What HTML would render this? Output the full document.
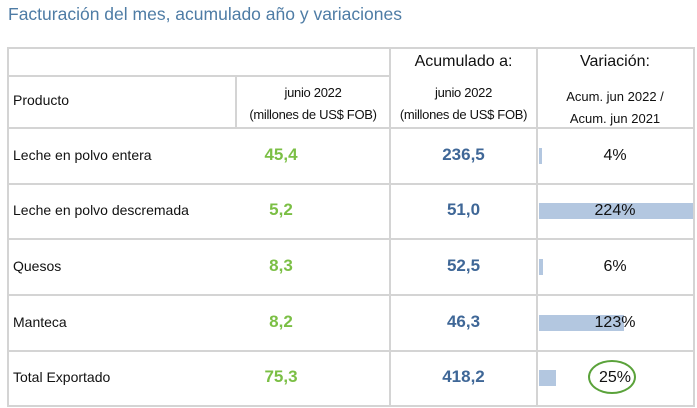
<!DOCTYPE html>
<html><head><meta charset="utf-8"><style>
body{margin:0;width:697px;height:408px;background:#fff;font-family:"Liberation Sans",sans-serif;position:relative;overflow:hidden}
.a{position:absolute}
.h{background:#d4d4d4}
.t{position:absolute;text-align:center;color:#111}
.g{color:#7bbf45;font-weight:bold;font-size:17px}
.b{color:#3f6797;font-weight:bold;font-size:17px}
</style></head><body>
<div class="a" style="left:8px;top:4px;font-size:17.5px;color:#4e7ca5">Facturación del mes, acumulado año y variaciones</div>
<div id="tbl"></div>
<script>
const products=["Leche en polvo entera","Leche en polvo descremada","Quesos","Manteca","Total Exportado"];
const monthVals=["45,4","5,2","8,3","8,2","75,3"];
const accVals=["236,5","51,0","52,5","46,3","418,2"];
const variation=[4,224,6,123,25];
const tbl=document.getElementById('tbl');
function line(x,y,w,h,name){const d=document.createElement('div');d.className='a h';d.style.cssText+=`left:${x}px;top:${y}px;width:${w}px;height:${h}px`;


tbl.appendChild(d);}
function txt(html,x,y,w,cls,name,extra){const d=document.createElement('div');d.className='t '+(cls||'');d.style.cssText+=`left:${x}px;top:${y}px;width:${w}px;${extra||''}`;d.innerHTML=html;


tbl.appendChild(d);return d;}
const rowTops=[128,183,239,295,350];const rowH=55;
line(8,47,687,2,'table-top-border');
line(8,75,382,2,'header-divider');
line(8,127,687,2,'header-bottom-border');
rowTops.forEach((y,i)=>line(8,y+rowH,687,2,'row-border'));
line(7,47,2,360,'left-border');
line(235,76,2,52,'subheader-divider');
line(389,47,2,360,'col-divider');
line(536,47,2,360,'col-divider');
line(693,47,2,360,'right-border');
txt('Acumulado a:',390,53,147,'','header-acumulado','font-size:16px');
txt('Variación:',537,53,156,'','header-variacion','font-size:16px');
txt('Producto',13,92,200,'','header-producto','text-align:left;font-size:14px');
txt('junio 2022<br>(millones de US$ FOB)',236,82,154,'','header-month','font-size:13px;line-height:22px;letter-spacing:-0.3px');
txt('junio 2022<br>(millones de US$ FOB)',390,82,147,'','header-accum','font-size:13px;line-height:22px;letter-spacing:-0.3px');
txt('Acum. jun 2022 /<br>Acum. jun 2021',537,86,156,'','header-ratio','font-size:13px;line-height:22px');
const maxV=Math.max(...variation);const barMax=154;
products.forEach((p,i)=>{const y=rowTops[i];
 txt(p,13,y+19,220,'','product-label','text-align:left;font-size:14px');
 txt(monthVals[i],236,y+17,90,'g','month-value');
 txt(accVals[i],390,y+17,147,'b','accum-value');
 const bw=Math.max(3,variation[i]/maxV*barMax);
 const bar=document.createElement('div');bar.className='a';bar.style.cssText=`left:539px;top:${y+20}px;width:${bw}px;height:16px;background:#b3c7e0`;
 
 
 tbl.appendChild(bar);
 txt(variation[i]+'%',537,y+19,156,'','variation-value','font-size:16px');
});
const c=document.createElement('div');c.className='a';c.style.cssText='left:588px;top:360px;width:44px;height:30px;border:2.5px solid #5aa23a;border-radius:50%';


tbl.appendChild(c);
</script>
</body></html>
